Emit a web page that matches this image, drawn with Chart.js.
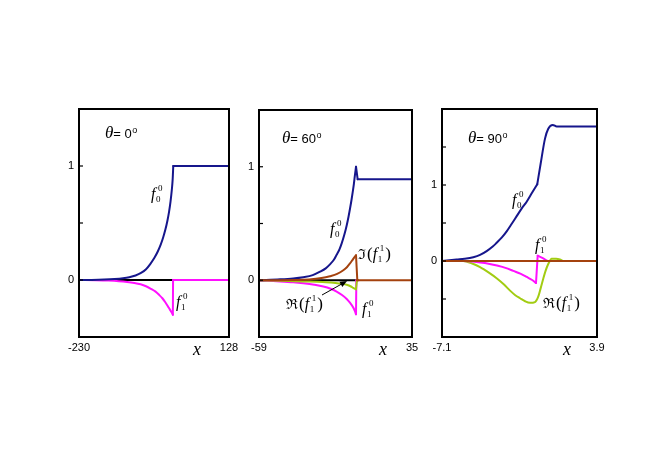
<!DOCTYPE html>
<html>
<head>
<meta charset="utf-8">
<script src="https://cdn.jsdelivr.net/npm/chart.js@4/dist/chart.umd.min.js"></script>
<style>
html, body { margin: 0; padding: 0; background: #fff; }
#wrap { position: relative; width: 654px; height: 462px; }
canvas { position: absolute; left: 0; top: 0; }
</style>
</head>
<body>
<div id="wrap">
  <canvas id="c1" width="654" height="462"></canvas>
  <canvas id="c2" width="654" height="462"></canvas>
  <canvas id="c3" width="654" height="462"></canvas>
</div>
<script>
// ---- data ----
// theta = 0
const p1XTicks = [-230, 128];
const p1YTicks = [-0.5, 0, 0.5, 1, 1.5];
const p1YLabels = [0, 1];
const p1Zero = [[-230, 0], [-6, 0]];
const p1F00 = [[-230, 0], [-200, 0.001], [-170, 0.004], [-145, 0.009], [-125, 0.016], [-110, 0.025], [-95, 0.04],
  [-82, 0.062], [-70, 0.095], [-60, 0.14], [-50, 0.195], [-42, 0.25], [-35, 0.31], [-29, 0.375], [-24, 0.44],
  [-19, 0.52], [-15, 0.6], [-11.5, 0.69], [-8.5, 0.79], [-6.5, 0.88], [-5, 1.0], [128, 1.0]];
const p1F10 = [[-230, 0], [-190, -0.002], [-160, -0.005], [-135, -0.01], [-115, -0.017], [-98, -0.026], [-83, -0.038],
  [-70, -0.055], [-58, -0.078], [-48, -0.1], [-39, -0.13], [-31, -0.16], [-24, -0.195], [-18, -0.23], [-13, -0.26],
  [-9, -0.283], [-6, -0.305], [-5.5, 0], [128, 0]];

// theta = 60
const p2XTicks = [-59, 35];
const p2YTicks = [-0.5, 0, 0.5, 1, 1.5];
const p2YLabels = [0, 1];
const p2Zero = [[-59, 0], [0.6, 0]];
const p2F00 = [[-59, 0], [-46, 0.008], [-38, 0.016], [-31.8, 0.027], [-26, 0.045], [-21.5, 0.075], [-18, 0.105],
  [-15.4, 0.14], [-13, 0.18], [-11.3, 0.225], [-9.5, 0.275], [-8.2, 0.325], [-6.5, 0.405], [-5.1, 0.485], [-4, 0.56],
  [-3.1, 0.63], [-2.2, 0.705], [-1.5, 0.77], [-0.7, 0.85], [-0.2, 0.91], [0.6, 1.0], [1.6, 0.89], [35, 0.89]];
const p2ImF11 = [[-59, 0], [-32, 0.005], [-24, 0.014], [-18, 0.026], [-15.4, 0.035], [-11, 0.056], [-7.2, 0.088],
  [-5, 0.115], [-3.1, 0.148], [-1.5, 0.18], [0, 0.21], [0.6, 0.22], [1.4, 0], [35, 0]];
const p2ReF11 = [[-59, 0], [-32, -0.01], [-20, -0.015], [-15.4, -0.02], [-10, -0.028], [-5.1, -0.04], [-2.5, -0.055],
  [-1.1, -0.068], [0.6, -0.08], [1.2, 0], [2, 0]];
const p2F10 = [[-59, 0], [-46, -0.01], [-38, -0.018], [-31.8, -0.027], [-25, -0.04], [-19.5, -0.055], [-15, -0.075],
  [-11.3, -0.1], [-8, -0.13], [-5.1, -0.165], [-3, -0.2], [-1.1, -0.24], [0, -0.275], [0.6, -0.30], [0.8, 0], [2, 0]];

// theta = 90
const p3XTicks = [-7.1, 3.9];
const p3YTicks = [-1, -0.5, 0, 0.5, 1, 1.5, 2];
const p3YLabels = [0, 1];
const p3F00 = [[-7.1, 0], [-6.06, 0.02], [-5.5, 0.03], [-4.88, 0.05], [-4.4, 0.08], [-3.93, 0.13], [-3.5, 0.19],
  [-3.22, 0.24], [-2.85, 0.31], [-2.51, 0.39], [-2.15, 0.49], [-1.8, 0.59], [-1.45, 0.69], [-1.09, 0.78],
  [-0.7, 0.9], [-0.34, 1.01], [-0.1, 1.28], [0.21, 1.61], [0.44, 1.74], [0.76, 1.79], [1.04, 1.77], [3.9, 1.77]];
const p3F10 = [[-7.1, 0], [-5.6, 0], [-4.4, -0.02], [-3.8, -0.035], [-3.2, -0.06], [-2.6, -0.09], [-2.04, -0.13],
  [-1.5, -0.17], [-1.09, -0.21], [-0.7, -0.25], [-0.43, -0.29], [-0.31, 0.07], [0.09, 0.035], [0.44, 0], [1, 0]];
const p3ReF11 = [[-7.1, 0], [-5.6, 0], [-5, -0.03], [-4.4, -0.08], [-3.8, -0.15], [-3.2, -0.23], [-2.7, -0.31],
  [-2.27, -0.39], [-1.9, -0.45], [-1.56, -0.49], [-1.2, -0.53], [-0.85, -0.55], [-0.5, -0.54], [-0.27, -0.47],
  [-0.1, -0.36], [0.09, -0.23], [0.25, -0.13], [0.44, -0.04], [0.68, 0.03], [1.0, 0.03], [1.27, 0.02], [1.5, 0], [2, 0]];
const p3ImF11 = [[-7.1, 0], [3.9, 0]];

const BLUE = '#16168c';
const MAGENTA = '#ff10ff';
const GREEN = '#a2cc12';
const BROWN = '#a4420e';
const BLACK = '#000000';

const serif = '"Liberation Serif", "DejaVu Serif", serif';
const sans = '"Liberation Sans", Arial, sans-serif';

function drawF(ctx, x, y, sub, sup) {
  ctx.textAlign = 'left';
  ctx.textBaseline = 'alphabetic';
  ctx.font = 'italic 16px ' + serif;
  ctx.fillText('f', x, y);
  ctx.font = '9px ' + serif;
  ctx.fillText(sub, x + 5, y + 3);
  ctx.fillText(sup, x + 7, y - 8);
  return x + 7 + ctx.measureText(sup).width;
}

function drawCplx(ctx, x, y, sym) {
  ctx.textAlign = 'left';
  ctx.textBaseline = 'alphabetic';
  ctx.font = '14px ' + serif;
  ctx.fillText(sym, x, y);
  x += ctx.measureText(sym).width + 1;
  ctx.font = '17px ' + serif;
  ctx.fillText('(', x, y);
  x += ctx.measureText('(').width;
  x = drawF(ctx, x, y, '1', '1') + 1;
  ctx.font = '17px ' + serif;
  ctx.fillText(')', x, y);
}

function drawTheta(ctx, x, y, deg) {
  ctx.textAlign = 'left';
  ctx.textBaseline = 'alphabetic';
  ctx.font = 'italic 17px ' + serif;
  ctx.fillText('\u03b8', x, y);
  x += ctx.measureText('\u03b8').width;
  ctx.font = '13px ' + sans;
  ctx.fillText('= ' + deg, x, y);
  x += ctx.measureText('= ' + deg).width;
  ctx.font = '9px ' + sans;
  ctx.fillText('o', x + 0.5, y - 5);
}

function makeDecor(cfg) {
  return {
    id: 'decor',
    afterDatasetsDraw(chart) {
      const ctx = chart.ctx, a = chart.chartArea;
      const xs = chart.scales.x, ys = chart.scales.y;
      ctx.save();
      ctx.strokeStyle = '#000';
      ctx.lineWidth = 2;
      ctx.strokeRect(a.left, a.top, a.right - a.left, a.bottom - a.top);
      ctx.lineWidth = 1.2;
      cfg.yTicks.forEach(v => {
        const y = ys.getPixelForValue(v);
        ctx.beginPath();
        ctx.moveTo(a.left, y);
        ctx.lineTo(a.left + 4, y);
        ctx.stroke();
      });
      ctx.fillStyle = '#000';
      ctx.font = '11px ' + sans;
      ctx.textAlign = 'right';
      ctx.textBaseline = 'middle';
      cfg.yLabels.forEach(v => ctx.fillText(String(v), a.left - 5, ys.getPixelForValue(v)));
      ctx.textAlign = 'center';
      ctx.textBaseline = 'alphabetic';
      cfg.xTicks.forEach(v => ctx.fillText(String(v), xs.getPixelForValue(v), a.bottom + 14));
      ctx.font = 'italic 18px ' + serif;
      ctx.fillText('x', cfg.xTitle[0], cfg.xTitle[1]);
      drawTheta(ctx, cfg.theta[0], cfg.theta[1], cfg.theta[2]);
      cfg.labels.forEach(l => {
        if (l.kind === 'f') drawF(ctx, l.x, l.y, l.sub, l.sup);
        else drawCplx(ctx, l.x, l.y, l.kind === 'Re' ? '\u211c' : '\u2111');
      });
      if (cfg.arrow) {
        const [x1, y1, x2, y2] = cfg.arrow;
        const ang = Math.atan2(y2 - y1, x2 - x1);
        ctx.lineWidth = 1;
        ctx.beginPath();
        ctx.moveTo(x1, y1);
        ctx.lineTo(x2 - 5 * Math.cos(ang), y2 - 5 * Math.sin(ang));
        ctx.stroke();
        ctx.beginPath();
        ctx.moveTo(x2, y2);
        ctx.lineTo(x2 - 7 * Math.cos(ang) + 3 * Math.sin(ang), y2 - 7 * Math.sin(ang) - 3 * Math.cos(ang));
        ctx.lineTo(x2 - 7 * Math.cos(ang) - 3 * Math.sin(ang), y2 - 7 * Math.sin(ang) + 3 * Math.cos(ang));
        ctx.closePath();
        ctx.fill();
      }
      ctx.restore();
    }
  };
}

// split a series at its sharp corners so each piece can be smoothed on its own
function splitAt(data, cusps) {
  const pieces = [];
  let cur = [];
  data.forEach(p => {
    cur.push(p);
    if (cusps.includes(p[0])) {
      pieces.push(cur);
      cur = [p];
    }
  });
  if (cur.length > 1) pieces.push(cur);
  return pieces;
}

function makePanel(id, box, xRange, yRange, series, cfg) {
  // first series ends up on top
  const datasets = [];
  series.forEach(s => {
    splitAt(s.data, s.cusps || []).forEach(piece => {
      datasets.push({
        data: piece.map(p => ({ x: p[0], y: p[1] })),
        borderColor: s.color,
        borderWidth: 2,
        borderJoinStyle: 'round',
        borderCapStyle: 'round',
        pointRadius: 0,
        cubicInterpolationMode: 'monotone',
        fill: false
      });
    });
  });
  new Chart(document.getElementById(id), {
    type: 'line',
    data: { datasets: datasets },
    options: {
      responsive: false,
      animation: false,
      devicePixelRatio: 1,
      events: [],
      layout: { padding: { left: box[0], top: box[1], right: 654 - box[2], bottom: 462 - box[3] } },
      plugins: { legend: { display: false }, tooltip: { enabled: false } },
      scales: {
        x: { type: 'linear', min: xRange[0], max: xRange[1], display: false },
        y: { type: 'linear', min: yRange[0], max: yRange[1], display: false }
      }
    },
    plugins: [makeDecor(cfg)]
  });
}

makePanel('c1', [79, 109, 229, 337], [-230, 128], [-0.5, 1.5],
  [{ data: p1F00, color: BLUE, cusps: [-5] }, { data: p1F10, color: MAGENTA, cusps: [-6, -5.5] },
   { data: p1Zero, color: BLACK }],
  {
    xTicks: p1XTicks, yTicks: p1YTicks, yLabels: p1YLabels, xTitle: [197, 355], theta: [105, 138, '0'],
    labels: [{ kind: 'f', x: 151, y: 199, sub: '0', sup: '0' }, { kind: 'f', x: 176, y: 307, sub: '1', sup: '0' }]
  });

makePanel('c2', [259, 110, 412, 337], [-59, 35], [-0.5, 1.5],
  [{ data: p2ImF11, color: BROWN, cusps: [0.6, 1.4] }, { data: p2F00, color: BLUE, cusps: [0.6, 1.6] },
   { data: p2ReF11, color: GREEN, cusps: [0.6, 1.2] },
   { data: p2F10, color: MAGENTA, cusps: [0.6, 0.8] }, { data: p2Zero, color: BLACK }],
  {
    xTicks: p2XTicks, yTicks: p2YTicks, yLabels: p2YLabels, xTitle: [383, 355], theta: [282, 143, '60'],
    labels: [{ kind: 'f', x: 330, y: 234, sub: '0', sup: '0' }, { kind: 'Im', x: 358, y: 259 },
             { kind: 'Re', x: 286, y: 309 }, { kind: 'f', x: 362, y: 314, sub: '1', sup: '0' }],
    arrow: [322, 295, 347, 281]
  });

makePanel('c3', [442, 109, 597, 337], [-7.1, 3.9], [-1, 2],
  [{ data: p3ImF11, color: BROWN }, { data: p3F00, color: BLUE, cusps: [-0.34] },
   { data: p3F10, color: MAGENTA, cusps: [-0.43, -0.31] },
   { data: p3ReF11, color: GREEN }],
  {
    xTicks: p3XTicks, yTicks: p3YTicks, yLabels: p3YLabels, xTitle: [567, 355], theta: [468, 143, '90'],
    labels: [{ kind: 'f', x: 512, y: 205, sub: '0', sup: '0' }, { kind: 'f', x: 535, y: 250, sub: '1', sup: '0' },
             { kind: 'Re', x: 543, y: 308 }]
  });
</script>
</body>
</html>
